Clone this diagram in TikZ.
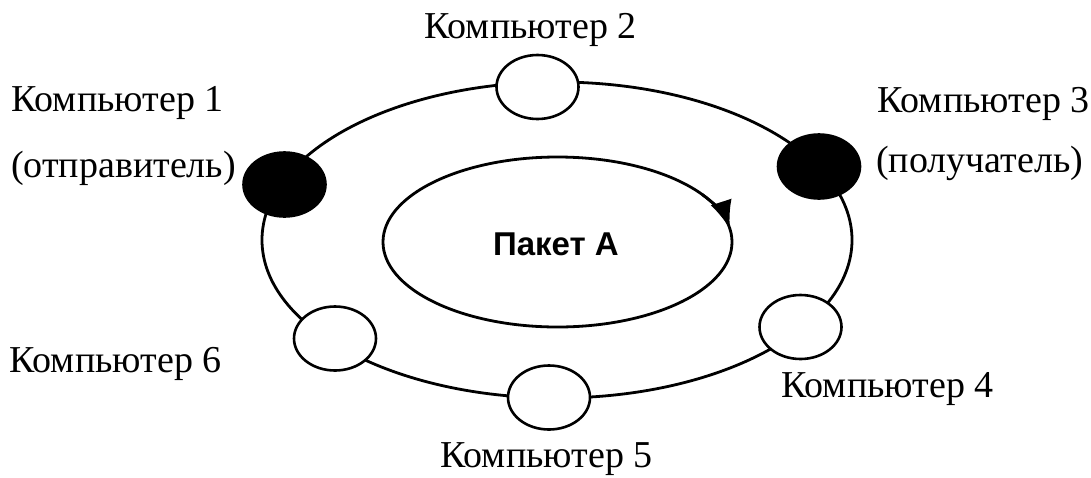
\documentclass[tikz,border=0pt]{standalone}
\usepackage{fontspec}
\setmainfont{Liberation Serif}
\newfontfamily\pktfont{Liberation Sans}
\usetikzlibrary{shapes.geometric,arrows.meta}
\begin{document}
\begin{tikzpicture}[x=1pt,y=-1pt,
  comp/.style={ellipse,draw,line width=2.6pt,minimum width=82pt,minimum height=64pt,inner sep=0pt,fill=white},
  host/.style={comp,fill=black},
  lbl/.style={inner sep=0pt,font=\fontsize{38}{40}\selectfont,anchor=base west},
  ring/.style={line width=2.8pt}]
\useasboundingbox (0,0) rectangle (1091,477);
% ring
\coordinate (rc) at (557,240);
\draw[ring] (rc) ellipse [x radius=295, y radius=158];
% inner ellipse with arrow
\coordinate (ic) at (557.5,242);
\draw[ring] (ic) ellipse [x radius=174.5, y radius=85];
\draw[ring,-{Latex[length=28pt,width=22pt]}] ([shift={(-34:174.5 and 85)}]ic) arc[start angle=-34, end angle=-9, x radius=174.5, y radius=85];
\node[inner sep=0pt,font=\pktfont\bfseries\fontsize{33}{35}\selectfont] (pkt) at (556,244) {Пакет А};
% computers
\node[host] (c1) at (284.5,184.5) {};
\node[comp] (c2) at (537.5,87) {};
\node[host] (c3) at (819,166.5) {};
\node[comp] (c4) at (800.5,327) {};
\node[comp] (c5) at (549,397.5) {};
\node[comp] (c6) at (335,338.5) {};
% labels
\node[lbl] (t1) at (11,111) {Компьютер 1};
\node[lbl] (s1) at (11,177) {(отправитель)};
\node[lbl] (t2) at (424,38) {Компьютер 2};
\node[lbl] (t3) at (877,112) {Компьютер 3};
\node[lbl] (s3) at (876,172) {(получатель)};
\node[lbl] (t4) at (781,397) {Компьютер 4};
\node[lbl] (t5) at (440,467) {Компьютер 5};
\node[lbl] (t6) at (9,372) {Компьютер 6};
\end{tikzpicture}
\end{document}
